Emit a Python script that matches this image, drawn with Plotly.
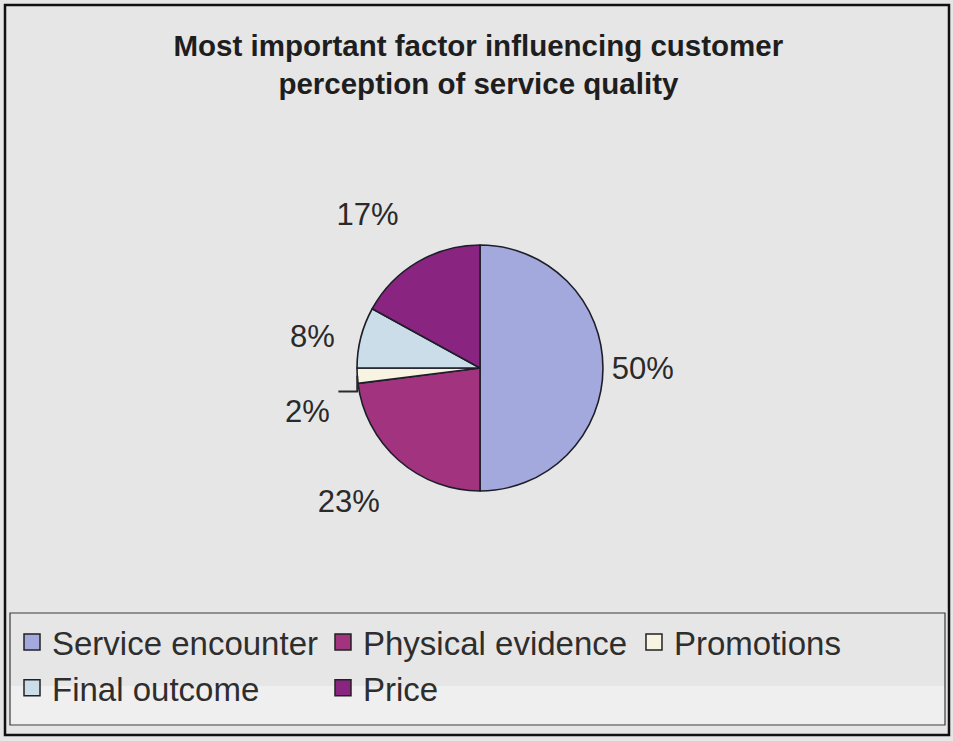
import plotly.graph_objects as go

# Data
categories = ["Service encounter", "Physical evidence", "Promotions", "Final outcome", "Price"]
shares = [50, 23, 2, 8, 17]
slice_colors = ["#a3a9dc", "#a2337f", "#f7f5e2", "#cadde9", "#892480"]
title_text = "Most important factor influencing customer<br>perception of service quality"

# label padding per slice (pushes outside labels a little further from the pie)
label_templates = [
    "%{percent:.0%}",
    "&nbsp;<br>%{percent:.0%}",
    "&nbsp;<br>%{percent:.0%}&nbsp;",
    "%{percent:.0%}&nbsp;&nbsp;",
    "%{percent:.0%}<br>&nbsp;",
]

W, H = 953, 741
FONT = "Liberation Sans, Arial, sans-serif"

fig = go.Figure()
fig.add_trace(go.Pie(
    labels=categories,
    values=shares,
    sort=False,
    direction="clockwise",
    rotation=0,
    marker=dict(colors=slice_colors, line=dict(color="#1e1e2a", width=1.6)),
    texttemplate=label_templates,
    textposition="outside",
    outsidetextfont=dict(family=FONT, size=31, color="#2a2a2a"),
    domain=dict(x=[(480 - 123) / W, (480 + 123) / W], y=[1 - (368 + 123) / H, 1 - (368 - 123) / H]),
    showlegend=False,
))

# Legend entries (square markers)
for name, col in zip(categories, slice_colors):
    fig.add_trace(go.Scatter(
        x=[None], y=[None], mode="markers", name=name,
        marker=dict(symbol="square", size=16, color=col, line=dict(color="#222222", width=1.5)),
        showlegend=True, hoverinfo="skip",
    ))

fig.update_xaxes(visible=False)
fig.update_yaxes(visible=False)

# Frame and legend box
fig.add_shape(type="rect", xref="paper", yref="paper",
              x0=5 / W, x1=949 / W, y0=1 - 735 / H, y1=1 - 5 / H,
              line=dict(color="#111111", width=2.5), layer="below")
fig.add_shape(type="rect", xref="paper", yref="paper",
              x0=10 / W, x1=945 / W, y0=1 - 686 / H, y1=1 - 726 / H,
              line=dict(width=0), fillcolor="#efefef", layer="below")
fig.add_shape(type="rect", xref="paper", yref="paper",
              x0=10 / W, x1=945 / W, y0=1 - 725 / H, y1=1 - 613 / H,
              line=dict(color="#3a3a3a", width=1.2), layer="below")

fig.update_layout(
    width=W, height=H,
    margin=dict(l=0, r=0, t=0, b=0),
    paper_bgcolor="#e6e6e6",
    plot_bgcolor="rgba(0,0,0,0)",
    title=dict(text=title_text, x=0.502, xanchor="center", y=1 - 56 / H, yanchor="top",
               font=dict(family=FONT, size=29.5, color="#1e1e1e", weight="bold")),
    legend=dict(orientation="h", x=12 / W, xanchor="left", y=1 - 614 / H, yanchor="top",
                font=dict(family=FONT, size=33, color="#2e2e2e"),
                bgcolor="rgba(0,0,0,0)", borderwidth=0, traceorder="normal"),
)

fig.write_html("out.html", config={"displayModeBar": False},
               post_script="document.body.style.margin='0';")
